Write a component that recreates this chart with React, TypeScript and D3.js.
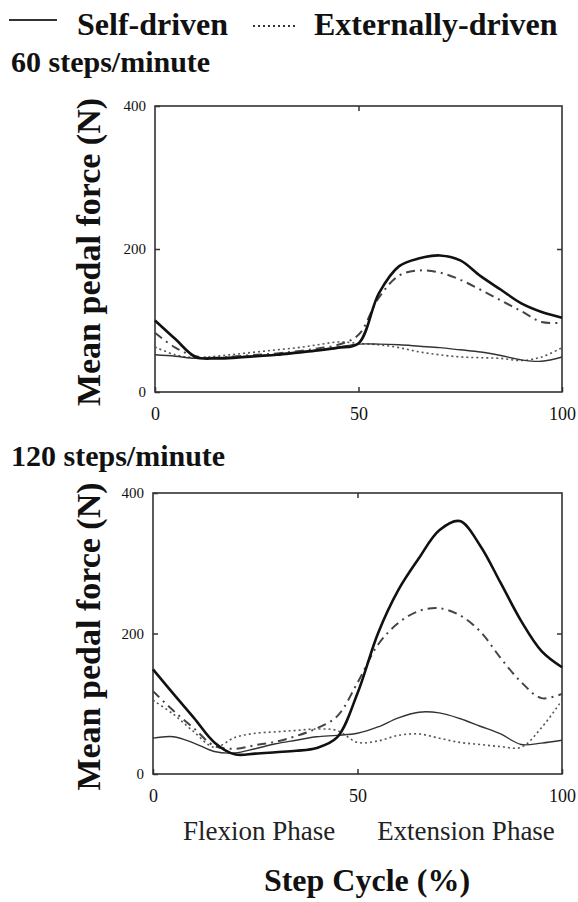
import React, { useRef, useEffect } from 'react';
import * as d3 from 'd3';

// step cycle (%) sample points shared by all curves
const stepCycle = [0, 5, 10, 15, 20, 25, 30, 35, 40, 45, 50, 55, 60, 65, 70, 75, 80, 85, 90, 95, 100];

// 60 steps/minute
const selfThick60 = [100, 74, 49, 47, 48, 50, 52, 55, 58, 62, 68, 138, 176, 187, 191, 184, 162, 143, 124, 112, 104];
const extThick60 = [83, 62, 50, 48, 50, 52, 54, 57, 61, 66, 80, 132, 163, 170, 167, 157, 143, 128, 113, 98, 97];
const selfThin60 = [52, 50, 47, 48, 49, 51, 53, 56, 59, 63, 67, 67, 66, 64, 62, 59, 56, 51, 45, 43, 49];
const extThin60 = [63, 52, 48, 50, 53, 56, 59, 62, 66, 70, 68, 66, 62, 56, 52, 49, 48, 47, 44, 49, 62];

// 120 steps/minute
const selfThick120 = [149, 114, 80, 45, 28, 29, 31, 33, 37, 52, 115, 200, 262, 307, 347, 360, 325, 272, 218, 175, 152];
const extThick120 = [118, 90, 65, 40, 36, 41, 46, 54, 65, 82, 130, 184, 215, 232, 236, 226, 203, 165, 131, 108, 114];
const selfThin120 = [51, 53, 44, 32, 30, 36, 43, 48, 53, 55, 58, 67, 80, 88, 87, 79, 68, 57, 42, 44, 48];
const extThin120 = [105, 85, 60, 38, 52, 58, 60, 62, 64, 62, 45, 47, 55, 57, 51, 45, 42, 39, 38, 66, 105];

const xTicks = [0, 50, 100];
const yTicks = [0, 200, 400];

const legendLabels = ['Self-driven', 'Externally-driven'];
const panelTitles = ['60 steps/minute', '120 steps/minute'];
const phaseLabels = ['Flexion Phase', 'Extension Phase'];

const serif = '"Liberation Serif", "Times New Roman", serif';

const App = () => {
  const svgRef = useRef(null);

  useEffect(() => {
    if (!svgRef.current) return;
    const svg = d3.select(svgRef.current);
    svg.selectAll('*').remove();

    const styles = [
      { stroke: '#111', width: 2.6, dash: null },
      { stroke: '#444', width: 2, dash: '9,5,2,5' },
      { stroke: '#333', width: 1.4, dash: null },
      { stroke: '#555', width: 1.6, dash: '2,3' }
    ];

    const panels = [
      { title: panelTitles[0], titleY: 72, top: 106, height: 286, left: 155, series: [selfThick60, extThick60, selfThin60, extThin60] },
      { title: panelTitles[1], titleY: 466, top: 493, height: 281, left: 153, series: [selfThick120, extThick120, selfThin120, extThin120] }
    ];
    const right = 562;

    // legend
    const legend = svg.append('g').attr('font-family', serif).attr('font-weight', 'bold').attr('fill', '#111');
    legend.append('line').attr('x1', 9).attr('x2', 57).attr('y1', 20).attr('y2', 20)
      .attr('stroke', '#333').attr('stroke-width', 2);
    legend.append('text').attr('x', 77).attr('y', 35).attr('font-size', 32).text(legendLabels[0]);
    legend.append('line').attr('x1', 253).attr('x2', 296).attr('y1', 26).attr('y2', 26)
      .attr('stroke', '#333').attr('stroke-width', 2).attr('stroke-dasharray', '2,3');
    legend.append('text').attr('x', 314).attr('y', 35).attr('font-size', 32).text(legendLabels[1]);

    panels.forEach((p, i) => {
      const x = d3.scaleLinear().domain([0, 100]).range([p.left, right]);
      const y = d3.scaleLinear().domain([0, 400]).range([p.top + p.height, p.top]);

      svg.append('text')
        .attr('x', 11)
        .attr('y', p.titleY)
        .attr('font-family', serif)
        .attr('font-weight', 'bold')
        .attr('font-size', 30)
        .attr('fill', '#111')
        .text(p.title);

      // y axis label
      const cy = p.top + p.height / 2 + 3;
      svg.append('text')
        .attr('transform', `translate(100, ${cy}) rotate(-90)`)
        .attr('text-anchor', 'middle')
        .attr('font-family', serif)
        .attr('font-weight', 'bold')
        .attr('font-size', 34)
        .attr('fill', '#111')
        .text('Mean pedal force (N)');

      const g = svg.append('g');

      // axes with inward ticks
      const xAxis = d3.axisBottom(x).tickValues(xTicks).tickSizeInner(-5).tickSizeOuter(0).tickPadding(12);
      const yAxis = d3.axisLeft(y).tickValues(yTicks).tickSizeInner(-5).tickSizeOuter(0).tickPadding(9);

      const xg = g.append('g').attr('transform', `translate(0, ${p.top + p.height})`).call(xAxis);
      xg.selectAll('text').attr('font-size', 18).attr('dy', '0.9em');
      const yg = g.append('g').attr('transform', `translate(${p.left}, 0)`).call(yAxis);
      yg.selectAll('text').attr('font-size', 15);

      g.append('g').attr('transform', `translate(0, ${p.top})`)
        .call(d3.axisTop(x).tickValues([50]).tickSizeInner(-5).tickSizeOuter(0).tickFormat(() => ''));
      g.append('g').attr('transform', `translate(${right}, 0)`)
        .call(d3.axisRight(y).tickValues([200]).tickSizeInner(-5).tickSizeOuter(0).tickFormat(() => ''));

      g.selectAll('.domain').remove();
      g.selectAll('.tick line').attr('stroke', '#333').attr('stroke-width', 1.5);
      g.selectAll('.tick text').attr('font-family', serif).attr('fill', '#111');

      g.append('rect')
        .attr('x', p.left)
        .attr('y', p.top)
        .attr('width', right - p.left)
        .attr('height', p.height)
        .attr('fill', 'none')
        .attr('stroke', '#333')
        .attr('stroke-width', 1.6);

      const line = d3.line()
        .x((d) => x(d[0]))
        .y((d) => y(d[1]))
        .curve(d3.curveCatmullRom.alpha(0.5));

      // draw thin curves first so the heavy ones sit on top
      [3, 2, 1, 0].forEach((k) => {
        const pts = stepCycle.map((s, j) => [s, p.series[k][j]]);
        g.append('path')
          .attr('d', line(pts))
          .attr('fill', 'none')
          .attr('stroke', styles[k].stroke)
          .attr('stroke-width', styles[k].width)
          .attr('stroke-dasharray', styles[k].dash)
          .attr('stroke-linejoin', 'round');
      });

      if (i === 1) {
        svg.append('text')
          .attr('x', 259)
          .attr('y', p.top + p.height + 66)
          .attr('text-anchor', 'middle')
          .attr('font-family', serif)
          .attr('font-size', 27)
          .attr('fill', '#222')
          .text(phaseLabels[0]);
        svg.append('text')
          .attr('x', 466)
          .attr('y', p.top + p.height + 66)
          .attr('text-anchor', 'middle')
          .attr('font-family', serif)
          .attr('font-size', 27)
          .attr('fill', '#222')
          .text(phaseLabels[1]);
        svg.append('text')
          .attr('x', 367)
          .attr('y', 891)
          .attr('text-anchor', 'middle')
          .attr('font-family', serif)
          .attr('font-weight', 'bold')
          .attr('font-size', 32)
          .attr('fill', '#111')
          .text('Step Cycle (%)');
      }
    });
  }, []);

  return (
    <svg
      ref={svgRef}
      width={578}
      height={902}
      style={{ position: 'absolute', left: 0, top: 0, background: '#fff' }}
    />
  );
};

export default App;
